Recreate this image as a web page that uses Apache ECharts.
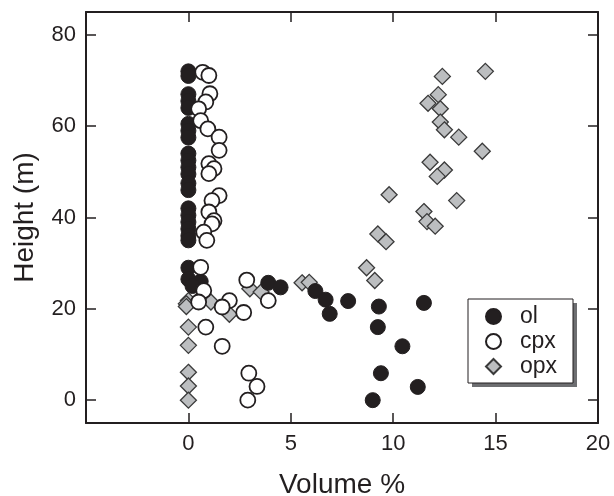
<!DOCTYPE html>
<html>
<head>
<meta charset="utf-8">
<script src="https://cdn.jsdelivr.net/npm/echarts@6/dist/echarts.min.js"></script>
<style>html,body{margin:0;padding:0;background:#fff}#c{width:614px;height:496px}</style>
</head>
<body>
<div id="c"></div>
<script>
// Volume % (x) vs Height m (y)
const ol = [
  [0,72],[0,71],[0,67],[0,65.5],[0,64],[0,60.5],[0,59],[0,57.5],[0,54],[0,52.5],[0,51],[0,49.5],[0,47.5],[0,46],
  [0,42],[0,40.5],[0,39],[0,37.5],[0,36],[0,35],[0,29],[0,26.5],[0.6,26],[0.2,25],
  [3.9,25.7],[4.5,24.7],[6.2,23.9],[6.7,22],[6.9,18.9],[7.8,21.7],[9.3,20.5],[11.5,21.3],
  [9.25,16],[10.45,11.8],[9.4,5.9],[11.2,2.9],[9.0,0]
];
const cpx = [
  [0.7,71.8],[1.0,71.1],[1.05,67.1],[0.85,65.3],[0.5,63.8],[0.6,61.2],[0.95,59.4],[1.5,57.6],[1.5,54.7],
  [1.0,51.8],[1.25,50.7],[1.0,49.6],[1.5,44.8],[1.15,43.7],[1.0,41.2],[1.25,39.3],[1.15,38.6],[0.75,36.8],
  [0.9,35.0],[0.6,29.1],[0.75,24.0],[0.5,21.5],[2.0,21.8],[1.65,20.4],[2.7,19.2],[2.85,26.3],[3.9,21.8],
  [0.85,16],[1.65,11.8],[2.95,5.9],[3.35,3.0],[2.9,0]
];
const opx = [
  [14.5,72],[12.4,70.9],[12.2,66.9],[11.7,65],[12.3,63.8],[12.3,60.9],[12.5,59.2],[13.2,57.6],[14.35,54.5],
  [11.8,52.1],[12.5,50.4],[12.15,49],[9.8,45],[13.1,43.7],[11.5,41.3],[11.65,39.1],[12.05,38.1],[9.25,36.4],
  [9.65,34.7],[8.7,29],[9.1,26.2],[5.55,25.7],[5.9,25.8],[3.0,24.4],[3.55,23.7],[1.1,21.5],[2.0,18.8],
  [0,21.8],[-0.1,21.1],[-0.1,20.5],[0,16],[0,12],[0,6.1],[0,3.1],[0,0]
];
const xTicks = [0,5,10,15,20];
const yTicks = [0,20,40,60,80];
const seriesNames = ['ol','cpx','opx'];

const ink = '#231f20';
const font = 'Liberation Sans';
const chart = echarts.init(document.getElementById('c'), null, {renderer:'canvas'});
const axisCommon = {
  axisLine:{show:true,onZero:false,lineStyle:{color:ink,width:2}},
  axisTick:{show:true,inside:true,length:10,lineStyle:{color:ink,width:1.5}},
  splitLine:{show:false}
};
chart.setOption({
  animation:false,
  backgroundColor:'#fff',
  grid:{left:86,right:16,top:12,bottom:73,containLabel:false,outerBoundsMode:'none'},
  xAxis:[
    Object.assign({type:'value',min:-5,max:20,interval:5,position:'bottom',
      name:'Volume %',nameLocation:'middle',nameGap:48,
      nameTextStyle:{fontFamily:font,fontSize:28,color:ink},
      axisLabel:{customValues:xTicks,margin:10,fontFamily:font,fontSize:22,color:ink}
    },axisCommon,{axisTick:Object.assign({},axisCommon.axisTick,{customValues:xTicks})}),
    Object.assign({type:'value',min:-5,max:20,interval:5,position:'top',axisLabel:{show:false}},
      axisCommon,{axisTick:Object.assign({},axisCommon.axisTick,{customValues:xTicks})})
  ],
  yAxis:[
    Object.assign({type:'value',min:-5,max:85,interval:5,position:'left',
      name:'Height (m)',nameLocation:'middle',nameGap:47,nameRotate:90,
      nameTextStyle:{fontFamily:font,fontSize:28,color:ink},
      axisLabel:{customValues:yTicks,margin:10,fontFamily:font,fontSize:22,color:ink}
    },axisCommon,{axisTick:Object.assign({},axisCommon.axisTick,{customValues:yTicks})}),
    Object.assign({type:'value',min:-5,max:85,interval:5,position:'right',axisLabel:{show:false}},
      axisCommon,{axisTick:Object.assign({},axisCommon.axisTick,{customValues:yTicks})})
  ],
  graphic:[
    {type:'rect',z:3,shape:{x:472,y:303,width:105,height:84},style:{fill:'#6d6e71'}},
    {type:'rect',z:3,shape:{x:468,y:299,width:105,height:84},style:{fill:'#fff',stroke:ink,lineWidth:1}}
  ],
  legend:{
    data:seriesNames,orient:'vertical',left:468,top:299,z:5,
    padding:[6,14,7,17],itemGap:2,itemWidth:15,itemHeight:15,
    textStyle:{fontFamily:font,fontSize:23,color:ink,padding:[0,0,0,14]}
  },
  series:[
    {name:'opx',type:'scatter',data:opx,symbol:'diamond',symbolSize:16,
      itemStyle:{color:'#bcbec0',borderColor:'#3a3a3a',borderWidth:1.3,opacity:1}},
    {name:'ol',type:'scatter',data:ol,symbol:'circle',symbolSize:15,
      itemStyle:{color:ink,borderColor:ink,borderWidth:1,opacity:1}},
    {name:'cpx',type:'scatter',data:cpx,symbol:'circle',symbolSize:15,
      itemStyle:{color:'#fff',borderColor:ink,borderWidth:1.8,opacity:1}}
  ]
});
</script>
</body>
</html>
